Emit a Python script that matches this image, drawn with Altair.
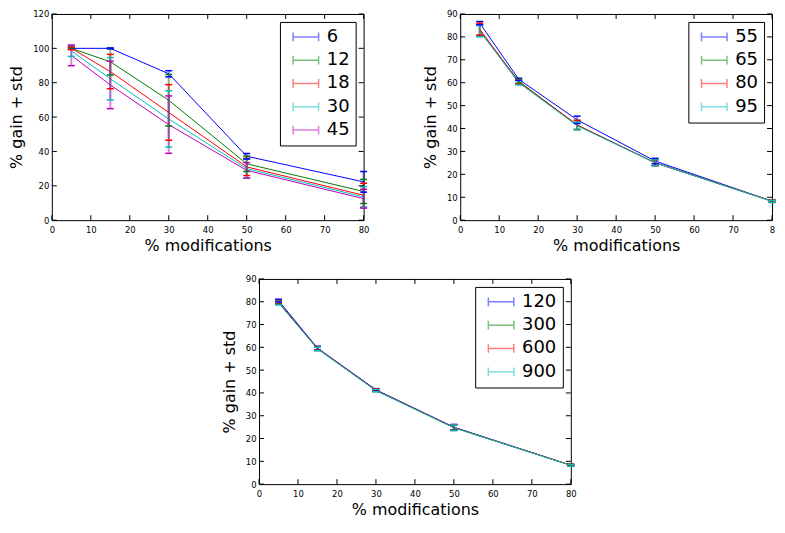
import altair as alt
import pandas as pd

# ---------------- data ----------------
x_mod = [5, 15, 30, 50, 80]
x_ticks = [0, 10, 20, 30, 40, 50, 60, 70, 80]

# top-left panel
tl_labels = ["6", "12", "18", "30", "45"]
tl_means = [
    [100.0, 100.0, 85.2, 37.2, 22.3],
    [100.0, 92.2, 69.8, 32.8, 16.7],
    [100.0, 86.5, 62.7, 31.0, 14.5],
    [98.5, 82.3, 58.9, 30.0, 13.5],
    [95.9, 78.7, 55.6, 29.0, 12.5],
]
tl_stds = [
    [0.5, 0.3, 1.8, 1.6, 6.0],
    [0.5, 7.7, 15.0, 4.5, 7.0],
    [0.8, 10.0, 16.2, 5.0, 7.0],
    [3.2, 12.3, 16.4, 5.5, 6.0],
    [6.0, 13.8, 16.7, 4.5, 5.5],
]
tl_yticks = [0, 20, 40, 60, 80, 100, 120]

# top-right panel
tr_labels = ["55", "65", "80", "95"]
tr_means = [
    [86.0, 61.5, 43.8, 25.8, 8.3],
    [82.8, 60.7, 41.5, 25.1, 8.3],
    [83.4, 60.3, 41.6, 25.0, 8.3],
    [82.5, 60.0, 41.2, 25.0, 8.2],
]
tr_stds = [
    [0.7, 0.5, 1.6, 1.2, 0.5],
    [2.3, 0.9, 2.0, 1.3, 0.5],
    [2.6, 0.9, 2.0, 1.2, 0.5],
    [2.5, 1.0, 1.6, 1.3, 0.5],
]
tr_yticks = [0, 10, 20, 30, 40, 50, 60, 70, 80, 90]

# bottom panel
bl_labels = ["120", "300", "600", "900"]
bl_means = [
    [80.5, 59.7, 41.4, 25.0, 8.3],
    [79.8, 59.4, 41.1, 24.8, 8.3],
    [79.7, 59.5, 41.2, 24.8, 8.3],
    [79.4, 59.3, 41.0, 24.7, 8.2],
]
bl_stds = [
    [0.6, 0.8, 0.5, 1.2, 0.4],
    [0.7, 0.8, 0.5, 1.2, 0.4],
    [0.8, 0.8, 0.5, 1.2, 0.4],
    [0.8, 0.8, 0.5, 1.2, 0.4],
]
bl_yticks = [0, 10, 20, 30, 40, 50, 60, 70, 80, 90]

colors = ["#0000ff", "#008000", "#ff0000", "#00bfbf", "#bf00bf"]

W = 313
H_TOP, H_BOT = 207, 206
TICK = 5
FONT = "DejaVu Sans"

ERR_SYMBOL = "M-1.6,0H1.6M-1.6,-0.55V0.55M1.6,-0.55V0.55"


def panel(labels, means, stds, yticks, H, clip_last=False):
    rows = []
    for lab, ms, ss in zip(labels, means, stds):
        for xv, m, s in zip(x_mod, ms, ss):
            rows.append({"x": xv, "y": m, "std": s, "series": lab})
    df = pd.DataFrame(rows)
    ymax = yticks[-1]
    xs = alt.Scale(domain=[0, 80], nice=False, zero=False)
    ys = alt.Scale(domain=[0, ymax], nice=False, zero=False)
    col = alt.Color(
        "series:N",
        scale=alt.Scale(domain=labels, range=colors[: len(labels)]),
        legend=alt.Legend(title=None, labelExpr="datum.label + '\u00a0\u00a0'"),
    )
    base = alt.Chart(df).transform_calculate(
        lo="datum.y - datum.std", hi="datum.y + datum.std"
    )
    xaxis_kw = dict(values=x_ticks, title="% modifications", format="d",
                    labelOverlap=False, labelFlush=False)
    if clip_last:
        xaxis_kw["labelExpr"] = "datum.value == 80 ? '8' : datum.label"
    xaxis = alt.Axis(**xaxis_kw)
    yaxis = alt.Axis(values=yticks, title="% gain + std", format="d",
                     labelOverlap=False, labelFlush=False)

    def X(f):
        return alt.X(f, scale=xs, axis=xaxis)

    def Y(f):
        return alt.Y(f, scale=ys, axis=yaxis)

    line = base.mark_line(strokeWidth=1).encode(x=X("x:Q"), y=Y("y:Q"), color=col)
    bars = base.mark_rule(strokeWidth=2, opacity=0.5).encode(
        x=X("x:Q"), y=Y("lo:Q"), y2="hi:Q", color=col
    )
    cap_hi = base.mark_rule(strokeWidth=1.5, xOffset=-3.5, x2Offset=3.5).encode(
        x=X("x:Q"), x2="x", y=Y("hi:Q"), color=col
    )
    cap_lo = base.mark_rule(strokeWidth=1.5, xOffset=-3.5, x2Offset=3.5).encode(
        x=X("x:Q"), x2="x", y=Y("lo:Q"), color=col
    )
    xt = alt.Chart(pd.DataFrame({"t": x_ticks}))
    yt = alt.Chart(pd.DataFrame({"t": yticks}))
    xt_b = xt.mark_rule(color="black", strokeWidth=1).encode(
        x=X("t:Q"), y=alt.value(H), y2=alt.value(H - TICK)
    )
    xt_t = xt.mark_rule(color="black", strokeWidth=1).encode(
        x=X("t:Q"), y=alt.value(0), y2=alt.value(TICK)
    )
    yt_l = yt.mark_rule(color="black", strokeWidth=1).encode(
        y=Y("t:Q"), x=alt.value(0), x2=alt.value(TICK)
    )
    yt_r = yt.mark_rule(color="black", strokeWidth=1).encode(
        y=Y("t:Q"), x=alt.value(W), x2=alt.value(W - TICK)
    )
    return alt.layer(line, bars, cap_hi, cap_lo, xt_b, xt_t, yt_l, yt_r).properties(
        width=W, height=H, view=alt.ViewBackground(stroke="black", strokeWidth=1)
    )


tl = panel(tl_labels, tl_means, tl_stds, tl_yticks, H_TOP)
tr = panel(tr_labels, tr_means, tr_stds, tr_yticks, H_TOP, clip_last=True)
bl = panel(bl_labels, bl_means, bl_stds, bl_yticks, H_BOT)

spacer = (
    alt.Chart(pd.DataFrame({"a": [0]}))
    .mark_point(opacity=0)
    .encode(x=alt.X("a:Q", axis=None), y=alt.Y("a:Q", axis=None))
    .properties(width=169, height=10, view=alt.ViewBackground(strokeOpacity=0))
)

top = alt.hconcat(tl, tr, spacing=52).resolve_scale(color="independent", x="independent", y="independent")
bottom = alt.hconcat(spacer, bl, spacing=0).resolve_scale(color="independent", x="independent", y="independent")

chart = (
    alt.vconcat(top, bottom, spacing=20)
    .resolve_scale(color="independent", x="independent", y="independent")
    .properties(padding={"left": 0, "top": 0, "right": 0, "bottom": 0})
    .configure(font=FONT)
    .configure_view(stroke="black", strokeWidth=1)
    .configure_axis(
        ticks=False,
        domain=False,
        grid=False,
        labelFont=FONT,
        labelFontSize=8.5,
        labelColor="black",
        labelPadding=3,
        titleFont=FONT,
        titleFontSize=16,
        titleFontWeight="normal",
        titleColor="black",
    )
    .configure_axisY(titlePadding=8)
    .configure_axisX(labelPadding=5, titlePadding=4)
    .configure_legend(
        orient="top-right",
        offset=8,
        strokeColor="black",
        fillColor="white",
        padding=6,
        cornerRadius=0,
        labelFont=FONT,
        labelFontSize=18,
        labelColor="black",
        labelOffset=12,
        symbolOffset=11,
        rowPadding=5.4,
        symbolType=ERR_SYMBOL,
        symbolSize=256,
        symbolStrokeWidth=1.5,
        symbolFillColor="transparent",
    )
)

chart.save("out.html", embed_options={"renderer": "svg", "actions": False})
